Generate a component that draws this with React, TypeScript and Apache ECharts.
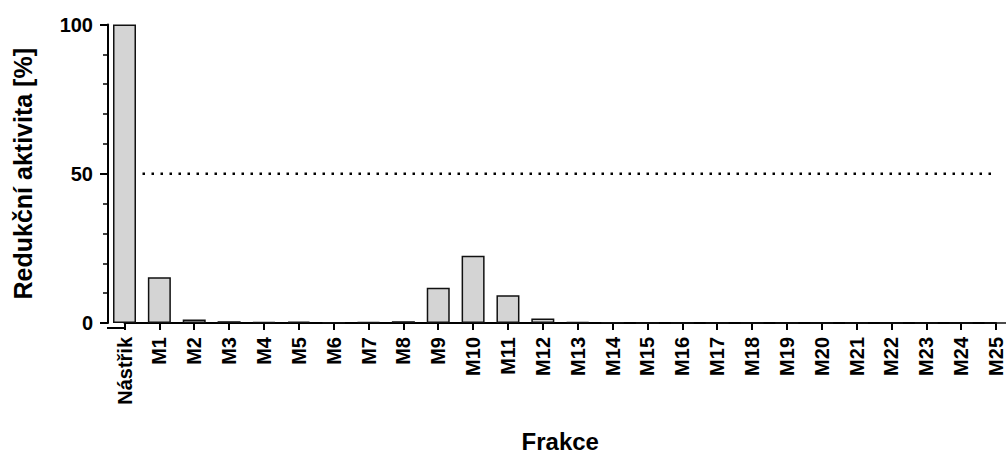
import React, { useEffect, useRef } from "react";
import * as echarts from "echarts";

const categories = [
  "Nástřik", "M1", "M2", "M3", "M4", "M5", "M6", "M7", "M8", "M9", "M10", "M11", "M12",
  "M13", "M14", "M15", "M16", "M17", "M18", "M19", "M20", "M21", "M22", "M23", "M24", "M25",
];
const activity = [
  100, 15.3, 1.2, 0.6, 0.3, 0.5, 0.15, 0.3, 0.6, 11.8, 22.5, 9.3, 1.5,
  0.3, 0.15, 0, 0, 0, 0, 0, 0, 0, 0, 0, 0, 0,
];
const thresholdValue = 50;
const yTicks = [0, 50, 100];

const FONT = "'Liberation Sans', Arial, sans-serif";

export default function App() {
  const ref = useRef<HTMLDivElement>(null);
  useEffect(() => {
    if (!ref.current) return;
    const chart = echarts.init(ref.current, undefined, { renderer: "svg" });
    chart.setOption({
      animation: false,
      backgroundColor: "#ffffff",
      grid: { left: 124.5, top: 24.5, width: 878.5, height: 303.5, containLabel: false },
      xAxis: {
        type: "category",
        data: categories,
        boundaryGap: false,
        name: "Frakce",
        nameLocation: "middle",
        nameGap: 106,
        nameTextStyle: { fontFamily: FONT, fontWeight: "bold", fontSize: 24, color: "#000" },
        axisLine: { show: true, lineStyle: { color: "#000", width: 2 } },
        axisTick: { show: true, length: 7, alignWithLabel: true, lineStyle: { color: "#000", width: 2 } },
        axisLabel: {
          interval: 0,
          rotate: 90,
          margin: 14,
          fontFamily: FONT,
          fontWeight: "bold",
          fontSize: 20,
          color: "#000",
        },
        splitLine: { show: false },
      },
      yAxis: {
        type: "value",
        min: yTicks[0],
        max: yTicks[yTicks.length - 1],
        interval: 50,
        offset: 16.5,
        name: "Redukční aktivita [%]",
        nameLocation: "middle",
        nameGap: 73,
        nameTextStyle: { fontFamily: FONT, fontWeight: "bold", fontSize: 25, color: "#000" },
        axisLine: { show: true, lineStyle: { color: "#000", width: 2 } },
        axisTick: { show: true, length: 8, lineStyle: { color: "#000", width: 2 } },
        minorTick: { show: true, splitNumber: 5, length: 5, lineStyle: { color: "#000", width: 1.5 } },
        axisLabel: {
          margin: 15,
          fontFamily: FONT,
          fontWeight: "bold",
          fontSize: 20,
          color: "#000",
        },
        splitLine: { show: false },
      },
      series: [
        {
          type: "line",
          data: categories.map(() => thresholdValue),
          symbol: "none",
          z: 1,
          lineStyle: { color: "#000", width: 2.5, type: [2.5, 6.5], cap: "butt" },
          silent: true,
        },
        {
          type: "bar",
          data: activity,
          barWidth: 23,
          clip: false,
          z: 3,
          itemStyle: { color: "#d4d4d4", borderColor: "#111", borderWidth: 1.5 },
        },
      ],
      graphic: [
        {
          type: "line",
          shape: { x1: 107, y1: 328, x2: 125, y2: 328 },
          style: { stroke: "#000", lineWidth: 2 },
          z: 10,
        },
      ],
    });
    return () => chart.dispose();
  }, []);
  return (
    <div
      ref={ref}
      style={{ position: "absolute", left: 0, top: 0, width: 1006, height: 458, background: "#fff" }}
    />
  );
}
